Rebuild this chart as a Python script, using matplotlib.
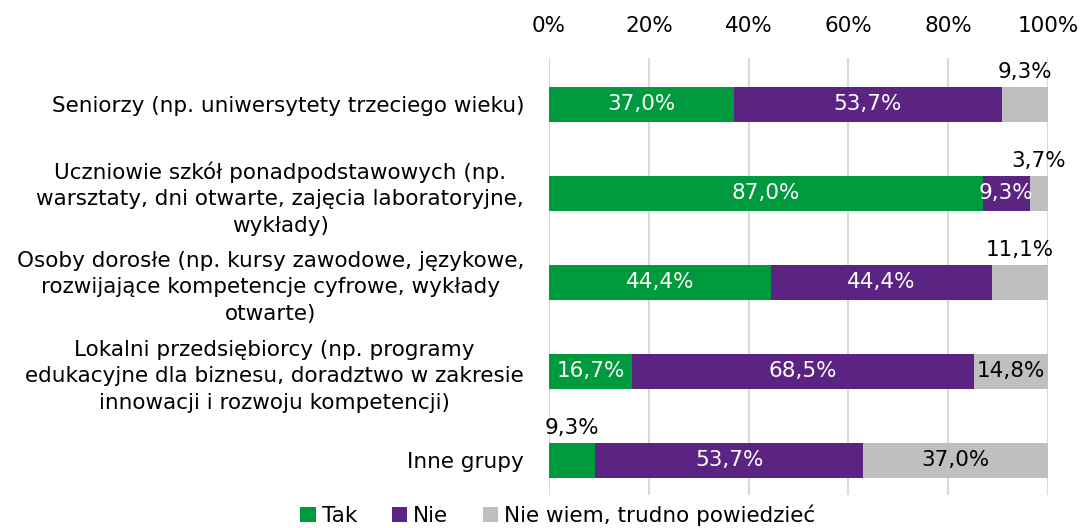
import matplotlib.pyplot as plt
import numpy as np

categories = [
    'Seniorzy (np. uniwersytety trzeciego wieku)',
    'Uczniowie szkół ponadpodstawowych (np.\nwarsztaty, dni otwarte, zajęcia laboratoryjne,\nwykłady)',
    'Osoby dorosłe (np. kursy zawodowe, językowe,\nrozwijające kompetencje cyfrowe, wykłady\notwarte)',
    'Lokalni przedsiębiorcy (np. programy\nedukacyjne dla biznesu, doradztwo w zakresie\ninnowacji i rozwoju kompetencji)',
    'Inne grupy',
]
tak = [37.0, 87.0, 44.4, 16.7, 9.3]
nie = [53.7, 9.3, 44.4, 68.5, 53.7]
nie_wiem = [9.3, 3.7, 11.1, 14.8, 37.0]
series_names = ['Tak', 'Nie', 'Nie wiem, trudno powiedzieć']

colors = ['#009A3E', '#5C2482', '#BFBFBF']
text_colors = ['white', 'white', 'black']
fs = 15.5
h = 0.39

plt.rcParams['font.family'] = 'DejaVu Sans'
fig = plt.figure(figsize=(10.83, 5.28), dpi=100)
ax = fig.add_axes([549 / 1083, 1 - 495 / 528, 499 / 1083, 437 / 528])

y = np.arange(len(categories))
left = np.zeros(len(categories))
for k, vals in enumerate([tak, nie, nie_wiem]):
    vals = np.array(vals)
    ax.barh(y, vals, height=h, left=left, color=colors[k], label=series_names[k], zorder=2)
    for i, v in enumerate(vals):
        cx = left[i] + v / 2
        lab = f'{v:.1f}%'.replace('.', ',')
        if v < 12 and not (k == 1 and i == 1):
            ax.text(cx, i - h / 2 - 0.17, lab, ha='center', va='center', fontsize=fs, color='black')
        else:
            ax.text(cx, i, lab, ha='center', va='center', fontsize=fs, color=text_colors[k])
    left = left + vals

ax.set_xlim(0, 100)
ax.set_ylim(4.39, -0.52)
ax.set_xticks(np.arange(0, 101, 20))
ax.set_xticklabels([f'{t}%' for t in range(0, 101, 20)], fontsize=fs)
ax.xaxis.tick_top()
ax.tick_params(axis='x', length=0, pad=16)
ax.set_yticks(y)
ax.set_yticklabels(categories, fontsize=fs)
for t in ax.get_yticklabels():
    t.set_multialignment('center')
    t.set_linespacing(1.4)
ax.tick_params(axis='y', length=0, pad=18)
ax.grid(axis='x', color='#D9D9D9', linewidth=1.5, zorder=0)
ax.set_axisbelow(True)
for s in ax.spines.values():
    s.set_visible(False)

fig.legend(loc='center', bbox_to_anchor=(558 / 1083, 1 - 515 / 528), ncol=3, frameon=False,
           fontsize=fs, handlelength=0.7, handleheight=0.7, handletextpad=0.3, columnspacing=1.6,
           borderpad=0)

fig.savefig('out.png', dpi=100)
